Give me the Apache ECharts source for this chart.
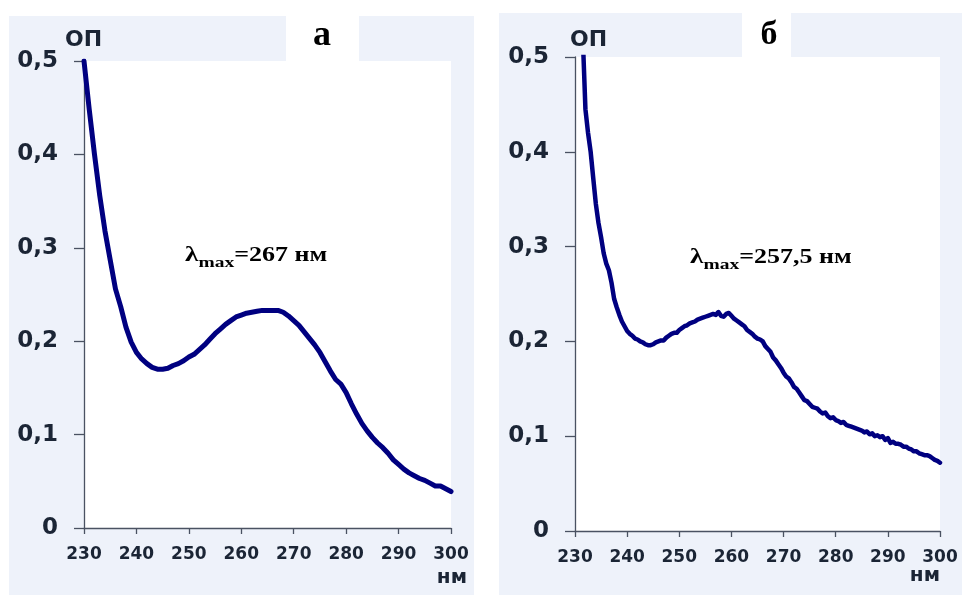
<!DOCTYPE html>
<html>
<head>
<meta charset="utf-8">
<script src="https://cdn.jsdelivr.net/npm/echarts@6/dist/echarts.min.js"></script>
<style>
  html, body { margin: 0; padding: 0; background: #ffffff; }
  #chart { width: 962px; height: 596px; }
</style>
</head>
<body>
<div id="chart"></div>
<script>
// Absorption spectra, panel "а" and panel "б"
const xTicks = [230, 240, 250, 260, 270, 280, 290, 300];
const yTicks = [0, 0.1, 0.2, 0.3, 0.4, 0.5];

const leftNm = [230, 231, 232, 233, 234, 235, 236, 237, 238, 239,
  240, 241, 242, 243, 244, 245, 246, 247, 248, 249,
  250, 251, 252, 253, 254, 255, 256, 257, 258, 259,
  260, 261, 262, 263, 264, 265, 266, 267, 268, 269,
  270, 271, 272, 273, 274, 275, 276, 277, 278, 279,
  280, 281, 282, 283, 284, 285, 286, 287, 288, 289,
  290, 291, 292, 293, 294, 295, 296, 297, 298, 299, 300];
const leftOd = [0.500, 0.448, 0.400, 0.356, 0.318, 0.287, 0.256, 0.237, 0.215, 0.199,
  0.188, 0.181, 0.176, 0.172, 0.170, 0.170, 0.171, 0.174, 0.176, 0.179,
  0.183, 0.186, 0.191, 0.196, 0.202, 0.208, 0.213, 0.218, 0.222, 0.226,
  0.228, 0.230, 0.231, 0.232, 0.233, 0.233, 0.233, 0.233, 0.231, 0.227,
  0.222, 0.217, 0.210, 0.203, 0.196, 0.188, 0.178, 0.168, 0.159, 0.154,
  0.145, 0.133, 0.122, 0.112, 0.104, 0.097, 0.091, 0.086, 0.080, 0.073,
  0.068, 0.063, 0.059, 0.056, 0.053, 0.051, 0.048, 0.045, 0.045, 0.042, 0.039];

const rightNm = [230, 231, 231.5, 232, 232.5, 233, 233.5, 234, 234.5, 235,
  235.5, 236, 236.5, 237, 237.5, 238, 238.5, 239, 239.5, 240,
  240.5, 241, 241.5, 242, 242.5, 243, 243.5, 244, 244.5, 245,
  245.5, 246, 246.5, 247, 247.5, 248, 248.5, 249, 249.5, 250,
  250.5, 251, 251.5, 252, 252.5, 253, 253.5, 254, 254.5, 255,
  255.5, 256, 256.5, 257, 257.5, 258, 258.5, 259, 259.5, 260,
  260.5, 261, 261.5, 262, 262.5, 263, 263.5, 264, 264.5, 265,
  265.5, 266, 266.5, 267, 267.5, 268, 268.5, 269, 269.5, 270,
  270.5, 271, 271.5, 272, 272.5, 273, 273.5, 274, 274.5, 275,
  275.5, 276, 276.5, 277, 277.5, 278, 278.5, 279, 279.5, 280,
  280.5, 281, 281.5, 282, 282.5, 283, 283.5, 284, 284.5, 285,
  285.5, 286, 286.5, 287, 287.5, 288, 288.5, 289, 289.5, 290,
  290.5, 291, 291.5, 292, 292.5, 293, 293.5, 294, 294.5, 295,
  295.5, 296, 296.5, 297, 297.5, 298, 298.5, 299, 299.5, 300];
const rightOd = [0.700, 0.600, 0.520, 0.445, 0.420, 0.400, 0.372, 0.345, 0.325, 0.310,
  0.293, 0.282, 0.275, 0.262, 0.245, 0.236, 0.228, 0.221, 0.216, 0.211,
  0.208, 0.206, 0.203, 0.202, 0.200, 0.199, 0.197, 0.196, 0.196, 0.197,
  0.199, 0.200, 0.201, 0.201, 0.204, 0.206, 0.208, 0.209, 0.209, 0.212,
  0.214, 0.216, 0.217, 0.219, 0.220, 0.221, 0.223, 0.224, 0.225, 0.226,
  0.227, 0.228, 0.229, 0.228, 0.231, 0.227, 0.226, 0.229, 0.230, 0.227,
  0.224, 0.222, 0.220, 0.218, 0.216, 0.212, 0.210, 0.208, 0.205, 0.203,
  0.202, 0.200, 0.195, 0.192, 0.189, 0.183, 0.180, 0.176, 0.172, 0.167,
  0.163, 0.161, 0.157, 0.152, 0.150, 0.146, 0.142, 0.138, 0.137, 0.134,
  0.131, 0.130, 0.129, 0.126, 0.124, 0.125, 0.121, 0.119, 0.120, 0.117,
  0.116, 0.114, 0.115, 0.112, 0.111, 0.110, 0.109, 0.108, 0.107, 0.106,
  0.104, 0.105, 0.102, 0.103, 0.100, 0.101, 0.099, 0.100, 0.096, 0.098,
  0.093, 0.094, 0.092, 0.092, 0.091, 0.089, 0.089, 0.087, 0.086, 0.084,
  0.084, 0.082, 0.081, 0.080, 0.080, 0.079, 0.077, 0.075, 0.074, 0.072];

const panelTitles = ['а', 'б'];
const peakLabels = ['=267 нм', '=257,5 нм'];
const yName = 'ОП';
const xName = 'нм';

const axisColor = '#4a5262';
const textColor = '#1b2535';
const lineColor = '#000080';
const panelFill = '#eef2fa';

function pairs(xs, ys) {
  return xs.map(function (x, i) { return [x, ys[i]]; });
}

function xAxisFor(gridIndex) {
  return {
    type: 'value', gridIndex: gridIndex,
    min: xTicks[0], max: xTicks[xTicks.length - 1], interval: 10,
    axisLine: { show: true, lineStyle: { color: axisColor, width: 1.3 } },
    axisTick: { show: true, length: 6, lineStyle: { color: axisColor, width: 1.3 } },
    axisLabel: {
      color: textColor, fontFamily: 'DejaVu Sans', fontWeight: 'bold',
      fontSize: 17, margin: 18
    },
    splitLine: { show: false }
  };
}

function yAxisFor(gridIndex) {
  return {
    type: 'value', gridIndex: gridIndex,
    min: yTicks[0], max: yTicks[yTicks.length - 1], interval: 0.1,
    axisLine: { show: true, lineStyle: { color: axisColor, width: 1.3 } },
    axisTick: { show: true, length: 10, lineStyle: { color: axisColor, width: 1.3 } },
    axisLabel: {
      color: textColor, fontFamily: 'DejaVu Sans', fontWeight: 'bold',
      fontSize: 23, margin: 26,
      formatter: function (v) { return v === 0 ? '0' : v.toFixed(1).replace('.', ','); }
    },
    splitLine: { show: false }
  };
}

function peakText(x, y, tail) {
  return {
    type: 'text', x: x, y: y, scaleX: 1.3, z: 100,
    style: {
      text: '{l|λ}{s|max}{n|' + tail + '}',
      fill: '#000000',
      align: 'left', verticalAlign: 'middle',
      rich: {
        l: { fontFamily: 'Liberation Serif', fontWeight: 'bold', fontSize: 21, lineHeight: 30, verticalAlign: 'middle', fill: '#000' },
        s: { fontFamily: 'Liberation Serif', fontWeight: 'bold', fontSize: 15, lineHeight: 15, verticalAlign: 'bottom', fill: '#000' },
        n: { fontFamily: 'Liberation Serif', fontWeight: 'bold', fontSize: 20, lineHeight: 30, verticalAlign: 'middle', fill: '#000' }
      }
    }
  };
}

function plainText(x, y, text, opts) {
  return {
    type: 'text', x: x, y: y, z: 100,
    style: Object.assign({
      text: text, fill: textColor, align: 'left', verticalAlign: 'middle',
      fontFamily: 'DejaVu Sans', fontWeight: 'bold', fontSize: 22
    }, opts || {})
  };
}

const chart = echarts.init(document.getElementById('chart'), null, { renderer: 'canvas' });

chart.setOption({
  backgroundColor: '#ffffff',
  animation: false,
  grid: [
    { left: 84, top: 61, width: 367, height: 467, show: true, backgroundColor: '#ffffff', borderWidth: 0 },
    { left: 575, top: 57, width: 365, height: 474, show: true, backgroundColor: '#ffffff', borderWidth: 0 }
  ],
  xAxis: [xAxisFor(0), xAxisFor(1)],
  yAxis: [yAxisFor(0), yAxisFor(1)],
  series: [
    {
      type: 'line', xAxisIndex: 0, yAxisIndex: 0,
      data: pairs(leftNm, leftOd), showSymbol: false, smooth: false, clip: true,
      lineStyle: { color: lineColor, width: 5, join: 'round', cap: 'round' }
    },
    {
      type: 'line', xAxisIndex: 1, yAxisIndex: 1,
      data: pairs(rightNm, rightOd), showSymbol: false, smooth: false, clip: true,
      lineStyle: { color: lineColor, width: 4.5, join: 'round', cap: 'round' }
    }
  ],
  graphic: [
    // panel backgrounds and the white boxes behind the panel letters
    { type: 'rect', z: -10, shape: { x: 9, y: 16, width: 465, height: 579 }, style: { fill: panelFill } },
    { type: 'rect', z: -9, shape: { x: 286, y: 0, width: 73, height: 61 }, style: { fill: '#ffffff' } },
    { type: 'rect', z: -10, shape: { x: 499, y: 13, width: 463, height: 582 }, style: { fill: panelFill } },
    { type: 'rect', z: -9, shape: { x: 742, y: 0, width: 49, height: 57 }, style: { fill: '#ffffff' } },
    // panel letters
    { type: 'text', x: 322, y: 36, z: 100, style: { text: panelTitles[0], fill: '#000', align: 'center', verticalAlign: 'middle', fontFamily: 'Liberation Serif', fontWeight: 'bold', fontSize: 36 } },
    { type: 'text', x: 769, y: 35, z: 100, style: { text: panelTitles[1], fill: '#000', align: 'center', verticalAlign: 'middle', fontFamily: 'Liberation Serif', fontWeight: 'bold', fontSize: 34 } },
    // axis names
    plainText(65, 40, yName),
    plainText(570, 40, yName),
    plainText(467, 578, xName, { align: 'right', fontSize: 20 }),
    plainText(940, 576, xName, { align: 'right', fontSize: 20 }),
    // peak annotations
    peakText(185, 256, peakLabels[0]),
    peakText(690, 258, peakLabels[1])
  ]
});
</script>
</body>
</html>
